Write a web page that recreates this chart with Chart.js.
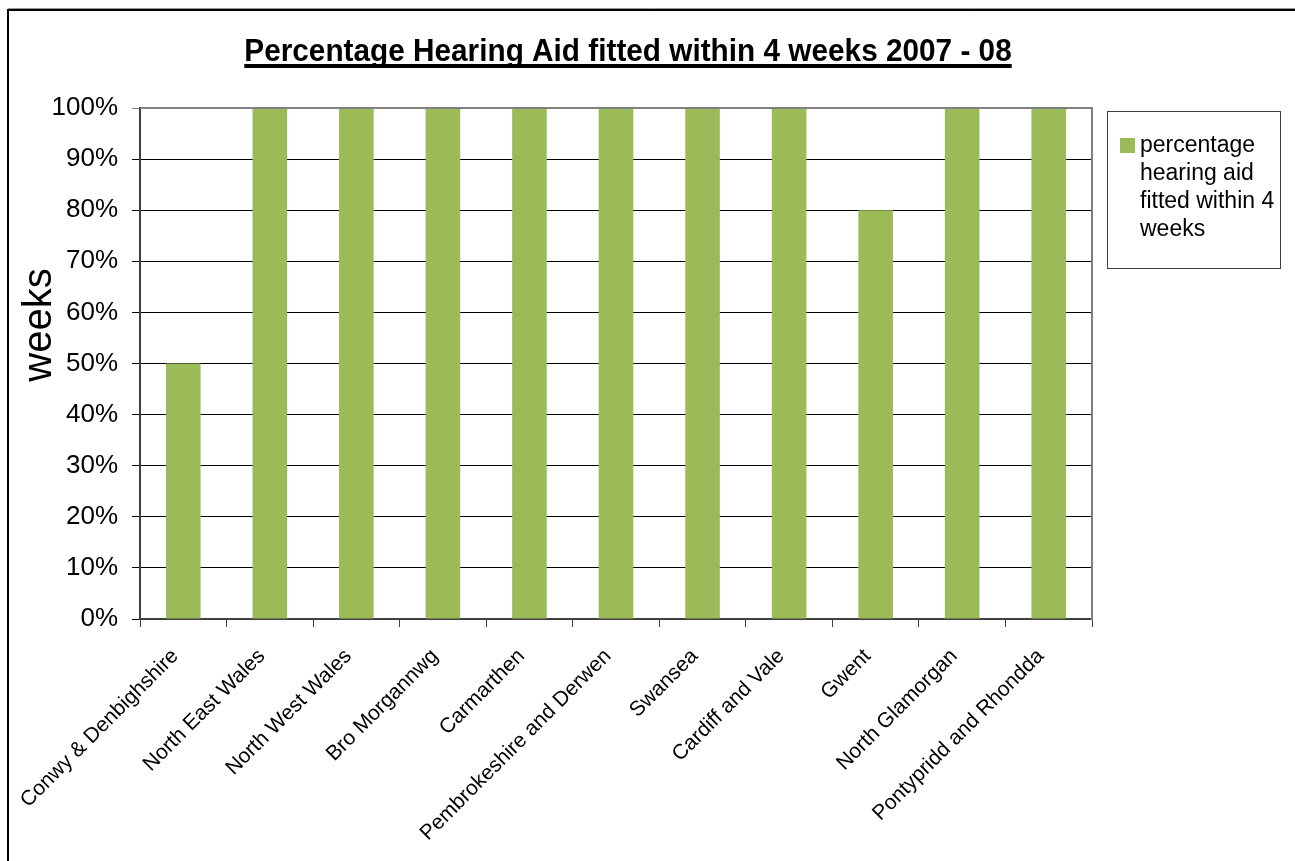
<!DOCTYPE html>
<html>
<head>
<meta charset="utf-8">
<script src="https://cdn.jsdelivr.net/npm/chart.js@4/dist/chart.umd.min.js"></script>
<style>
html,body{margin:0;padding:0;background:#fff;}
canvas{display:block;}
</style>
</head>
<body>
<canvas id="c" width="1295" height="861"></canvas>
<script>
const chartTitle = "Percentage Hearing Aid fitted within 4 weeks 2007 - 08";
const yAxisTitle = "weeks";
const categories = ["Conwy & Denbighshire","North East Wales","North West Wales","Bro Morgannwg","Carmarthen","Pembrokeshire and Derwen","Swansea","Cardiff and Vale","Gwent","North Glamorgan","Pontypridd and Rhondda"];
const seriesName = ["percentage","hearing aid","fitted within 4","weeks"];
const values = [50,100,100,100,100,100,100,100,80,100,100];
const yTicks = [0,10,20,30,40,50,60,70,80,90,100];

const FONT = "'Liberation Sans', Arial, sans-serif";
const GREEN = "#9BBB59";

const decor = {
  id: 'decor',
  beforeDraw(chart){
    const ctx = chart.ctx;
    ctx.save();
    ctx.fillStyle = '#fff';
    ctx.fillRect(0,0,chart.width,chart.height);
    ctx.restore();
  },
  afterDraw(chart){
    const ctx = chart.ctx;
    const a = chart.chartArea;
    ctx.save();
    // outer border
    ctx.strokeStyle = '#999'; ctx.lineWidth = 1;
    ctx.beginPath(); ctx.moveTo(8,8.5); ctx.lineTo(1295,8.5); ctx.stroke();
    ctx.strokeStyle = '#000'; ctx.lineWidth = 2;
    ctx.beginPath(); ctx.moveTo(8,861); ctx.lineTo(8,10); ctx.lineTo(1295,10); ctx.stroke();
    // plot area border top/right
    ctx.strokeStyle = '#808080'; ctx.lineWidth = 2;
    ctx.beginPath(); ctx.moveTo(a.left,a.top); ctx.lineTo(a.right,a.top); ctx.lineTo(a.right,a.bottom+1); ctx.stroke();
    // title (slightly condensed bold)
    ctx.fillStyle = '#000';
    ctx.font = "bold 32px " + FONT;
    ctx.textAlign = 'center'; ctx.textBaseline = 'alphabetic';
    const sx = 0.93;
    const tw = ctx.measureText(chartTitle).width * sx;
    ctx.save();
    ctx.translate(628, 61);
    ctx.scale(sx, 1);
    ctx.fillText(chartTitle, 0, 0);
    ctx.restore();
    ctx.fillRect(628 - tw/2, 64, tw, 4);
    // y axis title
    ctx.save();
    ctx.translate(40, 325);
    ctx.rotate(-Math.PI/2);
    ctx.font = "40px " + FONT;
    ctx.textAlign = 'center'; ctx.textBaseline = 'middle';
    ctx.fillText(yAxisTitle, 0, 0);
    ctx.restore();
    // legend
    ctx.strokeStyle = '#404040'; ctx.lineWidth = 1;
    ctx.strokeRect(1107.5, 111.5, 173, 157);
    ctx.fillStyle = GREEN;
    ctx.fillRect(1120, 138, 15, 15);
    ctx.fillStyle = '#000';
    ctx.font = "23px " + FONT;
    ctx.textAlign = 'left'; ctx.textBaseline = 'alphabetic';
    seriesName.forEach((s,i)=>ctx.fillText(s, 1140, 152 + i*28));
    ctx.restore();
  }
};

new Chart(document.getElementById('c'), {
  type: 'bar',
  data: {
    labels: categories,
    datasets: [{
      label: seriesName.join(' '),
      data: values,
      backgroundColor: GREEN,
      borderWidth: 0,
      barPercentage: 0.4,
      categoryPercentage: 1.0
    }]
  },
  options: {
    responsive: false,
    animation: false,
    devicePixelRatio: 1,
    layout: { padding: { left: 0, top: 108, right: 203, bottom: 0 } },
    plugins: { legend: { display: false }, title: { display: false }, tooltip: { enabled: false } },
    scales: {
      x: {
        offset: true,
        afterFit(s){ s.height = 242; },
        grid: { drawOnChartArea: false, drawTicks: true, tickLength: 8, color: '#404040', offset: true },
        border: { color: '#404040', width: 2 },
        ticks: {
          maxRotation: 45, minRotation: 45, autoSkip: false,
          padding: 17,
          labelOffset: -8,
          color: '#000',
          font: { family: FONT, size: 21 }
        }
      },
      y: {
        min: 0, max: 100,
        afterFit(s){ s.width = 140; },
        afterBuildTicks(s){ s.ticks = yTicks.map(v=>({value:v})); },
        grid: { color: (c)=> c.tick && c.tick.value === 100 ? '#808080' : '#000', tickLength: 8, lineWidth: 1 },
        border: { color: '#404040', width: 2 },
        ticks: {
          padding: 14,
          color: '#000',
          font: { family: FONT, size: 26 },
          callback: (v)=> v + '%'
        }
      }
    }
  },
  plugins: [decor]
});
</script>
</body>
</html>
